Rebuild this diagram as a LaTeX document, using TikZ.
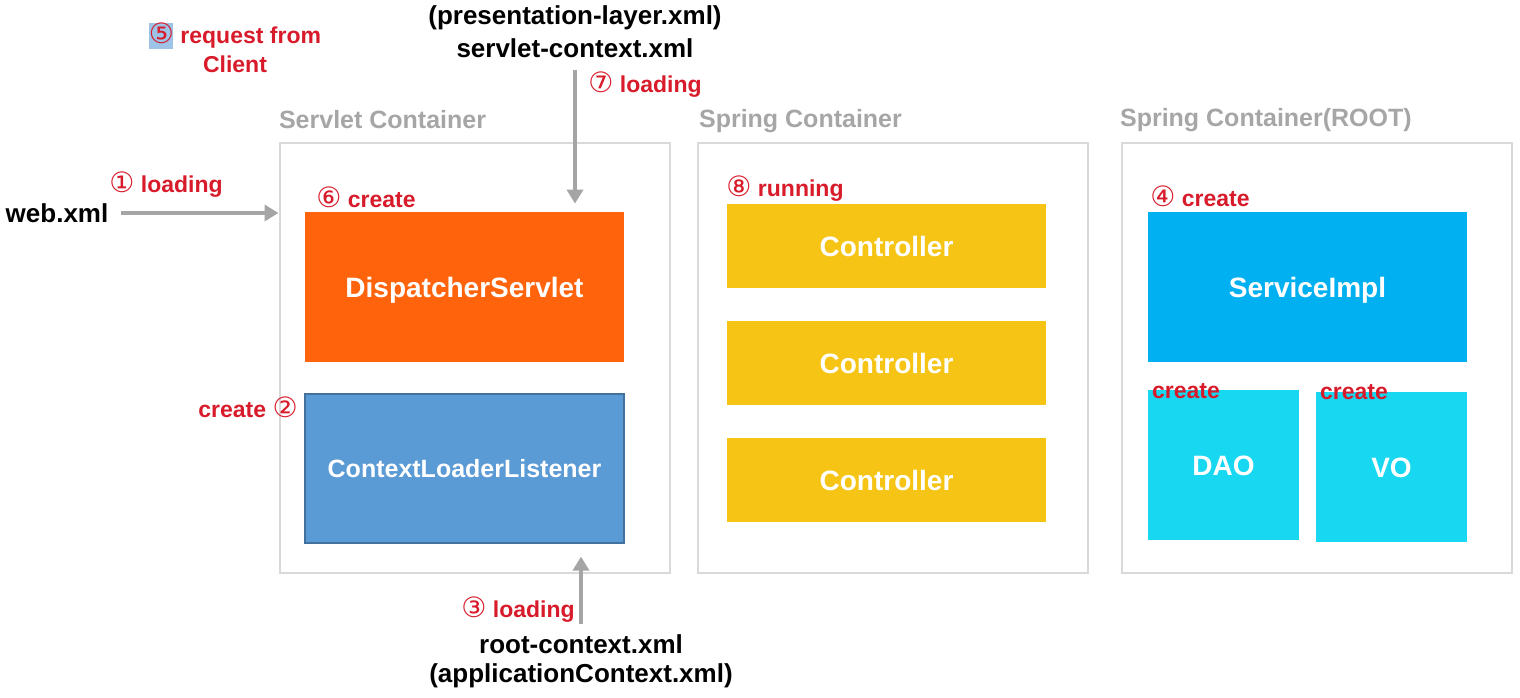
\documentclass[tikz,border=0pt]{standalone}
\usepackage{fontspec}
\setmainfont{Liberation Sans}
\newfontfamily\circfont{DejaVu Sans}
\usetikzlibrary{arrows.meta,positioning}

\definecolor{boxgray}{HTML}{D9D9D9}
\definecolor{titlegray}{HTML}{A6A6A6}
\definecolor{flowgray}{HTML}{A5A5A5}
\definecolor{stepred}{HTML}{D81B2A}
\definecolor{dispcol}{HTML}{FF640C}
\definecolor{cllcol}{HTML}{5B9BD5}
\definecolor{cllline}{HTML}{41719C}
\definecolor{ctrlcol}{HTML}{F5C414}
\definecolor{svccol}{HTML}{00B0F0}
\definecolor{daocol}{HTML}{17D7F1}
\definecolor{hilite}{HTML}{9DC3E6}

\tikzset{
  container/.style={draw=boxgray, line width=1pt, minimum width=195pt, minimum height=215pt},
  ctitle/.style={anchor=west, text=titlegray, font=\bfseries\fontsize{12.5}{14}\selectfont},
  comp/.style={text=white, inner sep=0pt, text height=10pt, text depth=0pt, font=\bfseries\fontsize{14}{16}\selectfont},
  redlbl/.style={text=stepred, inner sep=1pt, font=\bfseries\fontsize{11.5}{13}\selectfont},
  xmllbl/.style={text=black, inner sep=1pt, font=\bfseries\fontsize{13}{15}\selectfont},
  flow/.style={draw=flowgray, line width=2pt, -{Triangle[width=8pt,length=7pt]}}
}
\newcommand{\stepno}[1]{{\circfont\mdseries\fontsize{14}{14}\selectfont #1}}

\begin{document}
\begin{tikzpicture}[x=0.5pt,y=-0.5pt]
    \useasboundingbox (0,0) rectangle (1520,697);

    % containers
    \node[container] (srv) at (474.5,357.5) {};
    \node[container] (spr) at (893,358) {};
    \node[container] (root) at (1316.5,358) {};
    \node[ctitle] at (272,120) {Servlet Container};
    \node[ctitle] at (692,121) {Spring Container};
    \node[ctitle] at (1113,120) {Spring Container(ROOT)};

    % servlet container
    \node[comp, fill=dispcol, minimum width=159.5pt, minimum height=75pt] (disp) at (464.5,287) {DispatcherServlet};
    \node[comp, fill=cllcol, draw=cllline, line width=0.6pt, minimum width=159.5pt, minimum height=74.5pt,
          text height=9pt, font=\bfseries\fontsize{12.5}{14}\selectfont] (cll) at (464.5,468.5) {ContextLoaderListener};

    % spring container
    \node[comp, fill=ctrlcol, minimum width=159.5pt, minimum height=42pt] (ctrl1) at (886.5,246) {Controller};
    \node[comp, fill=ctrlcol, minimum width=159.5pt, minimum height=42pt] (ctrl2) at (886.5,363) {Controller};
    \node[comp, fill=ctrlcol, minimum width=159.5pt, minimum height=42pt] (ctrl3) at (886.5,480) {Controller};

    % root container
    \node[comp, fill=svccol, minimum width=159.5pt, minimum height=75pt] (svc) at (1307.5,287) {ServiceImpl};
    \node[comp, fill=daocol, minimum width=75.5pt, minimum height=75pt] (dao) at (1223.5,465) {DAO};
    \node[comp, fill=daocol, minimum width=75.5pt, minimum height=75pt] (vo) at (1391.5,467) {VO};

    % files
    \node[xmllbl] (web) at (57,213) {web.xml};
    \node[xmllbl] (pres) at (575,18) {(presentation-layer.xml)};
    \node[xmllbl] (sctx) at (575,48) {servlet-context.xml};
    \node[xmllbl] (rctx) at (581,644) {root-context.xml};
    \node[xmllbl] (actx) at (581,676) {(applicationContext.xml)};

    % flows
    \draw[flow] ([xshift=5pt]web.east) -- (web.east -| srv.west);
    \draw[flow] ([yshift=-5pt]sctx.south) -- ([yshift=4pt]sctx.south |- disp.north);
    \draw[flow] ([yshift=4pt]rctx.north) -- ([yshift=-6.5pt]rctx.north |- cll.south);

    % steps
    \fill[hilite] (149,23) rectangle (173,49);
    \node[redlbl] at (235,36) {\stepno{⑤} request from};
    \node[redlbl] at (235,64) {Client};
    \node[redlbl] at (166,185) {\stepno{①} loading};
    \node[redlbl] at (248,407) {create \stepno{②}};
    \node[redlbl] at (518,610) {\stepno{③} loading};
    \node[redlbl] at (1200,196) {\stepno{④} create};
    \node[redlbl] at (366,197) {\stepno{⑥} create};
    \node[redlbl] at (645,85) {\stepno{⑦} loading};
    \node[redlbl] at (785,189) {\stepno{⑧} running};
    \node[redlbl] at (1186,391) {create};
    \node[redlbl] at (1354,392) {create};
\end{tikzpicture}
\end{document}
